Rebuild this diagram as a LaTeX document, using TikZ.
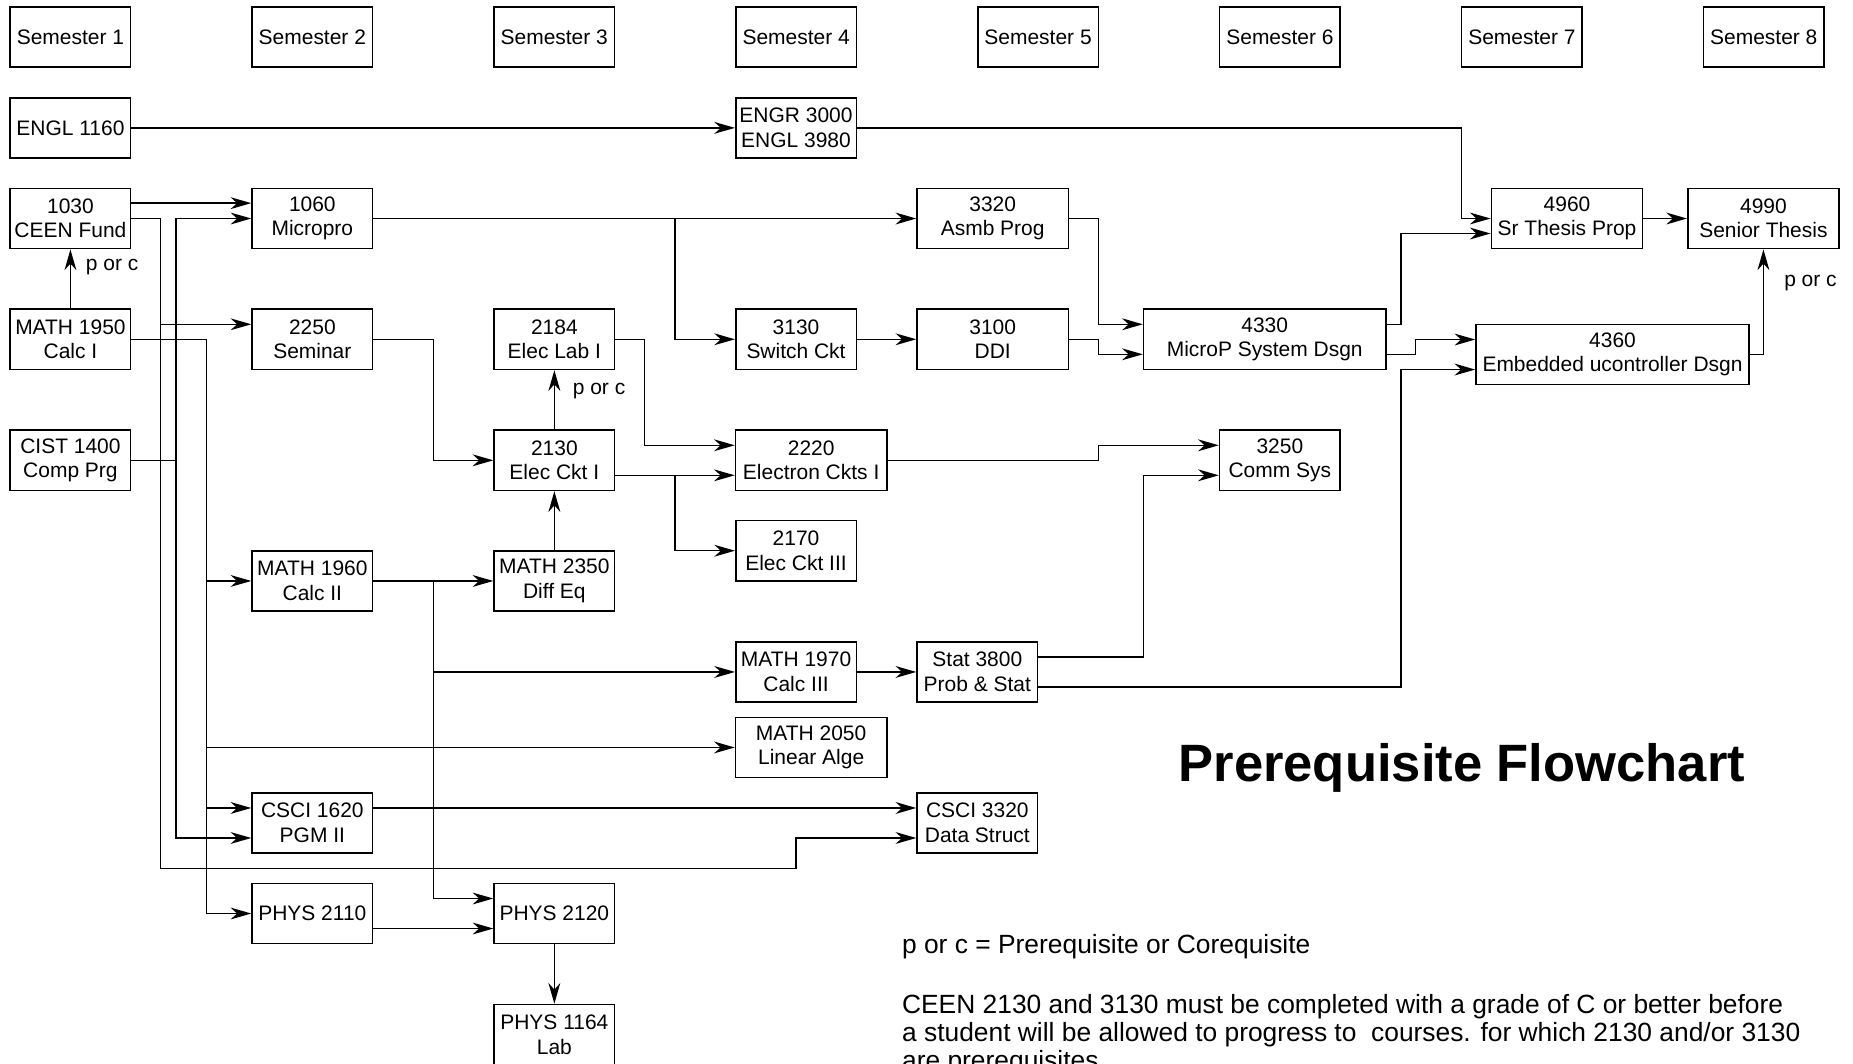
\documentclass[tikz,border=0pt]{standalone}
\usepackage{fontspec}
\setmainfont{Liberation Sans}
\usetikzlibrary{arrows.meta}

\begin{document}
\begin{tikzpicture}[x=0.2mm, y=-0.2mm,
    >={Stealth[length=3.5mm, width=2mm, inset=1.1mm]},
    course/.style={draw, line width=0.75pt, minimum width=20.4mm, minimum height=10.2mm, inner sep=0pt, align=center, font=\fontsize{10.1}{11.8}\selectfont},
    longcourse/.style={course, minimum width=25.6mm},
    arr/.style={line width=0.7pt, ->},
    lbl/.style={font=\fontsize{10.1}{11.8}\selectfont, inner sep=0pt, anchor=west},
    note/.style={font=\fontsize{12.7}{14}\selectfont, inner sep=0pt, anchor=base west}]
    \useasboundingbox (0,0) rectangle (1568,900);
    \clip (0,0) rectangle (1568,900);

    \node[course] (sem1) at (59.6,31.3) {Semester 1};
    \node[course] (sem2) at (264.3,31.3) {Semester 2};
    \node[course] (sem3) at (469.0,31.3) {Semester 3};
    \node[course] (sem4) at (673.7,31.3) {Semester 4};
    \node[course] (sem5) at (878.4,31.3) {Semester 5};
    \node[course] (sem6) at (1083.1,31.3) {Semester 6};
    \node[course] (sem7) at (1287.8,31.3) {Semester 7};
    \node[course] (sem8) at (1492.5,31.3) {Semester 8};

    \node[course] (engl1160) at (59.6,108.2) {ENGL 1160};
    \node[course] (engr3000) at (673.6,108.2) {ENGR 3000\\ENGL 3980};
    \node[course] (ceen1030) at (59.6,184.9) {1030\\CEEN Fund};
    \node[course] (ceen1060) at (264.3,184.9) {1060\\Micropro};
    \node[longcourse] (ceen3320) at (840,184.9) {3320\\Asmb Prog};
    \node[longcourse] (ceen4960) at (1326,184.9) {4960\\Sr Thesis Prop};
    \node[longcourse] (ceen4990) at (1492.2,184.9) {4990\\Senior Thesis};
    \node[course] (math1950) at (59.6,287.1) {MATH 1950\\Calc I};
    \node[course] (ceen2250) at (264.3,287.1) {2250\\Seminar};
    \node[course] (ceen2184) at (469.1,287.1) {2184\\Elec Lab I};
    \node[course] (ceen3130) at (673.6,287.1) {3130\\Switch Ckt};
    \node[longcourse] (ceen3100) at (840,287.1) {3100\\DDI};
    \node[course, minimum width=41mm] (ceen4330) at (1070.2,287.1) {4330\\MicroP System Dsgn};
    \node[course, minimum width=46.2mm] (ceen4360) at (1364.5,300) {4360\\Embedded ucontroller Dsgn};
    \node[course] (cist1400) at (59.6,389.5) {CIST 1400\\Comp Prg};
    \node[course] (ceen2130) at (469.1,389.5) {2130\\Elec Ckt I};
    \node[longcourse] (ceen2220) at (686.4,389.5) {2220\\Electron Ckts I};
    \node[course] (ceen3250) at (1083,389.5) {3250\\Comm Sys};
    \node[course] (ceen2170) at (673.6,466) {2170\\Elec Ckt III};
    \node[course] (math1960) at (264.3,491.6) {MATH 1960\\Calc II};
    \node[course] (math2350) at (469.1,491.6) {MATH 2350\\Diff Eq};
    \node[course] (math1970) at (673.6,568.6) {MATH 1970\\Calc III};
    \node[course] (stat3800) at (827,568.6) {Stat 3800\\Prob \& Stat};
    \node[longcourse] (math2050) at (686.4,632.5) {MATH 2050\\Linear Alge};
    \node[course] (csci1620) at (264.3,696.4) {CSCI 1620\\PGM II};
    \node[course] (csci3320) at (827,696.4) {CSCI 3320\\Data Struct};
    \node[course] (phys2110) at (264.3,773) {PHYS 2110};
    \node[course] (phys2120) at (469.1,773) {PHYS 2120};
    \node[course] (phys1164) at (469.1,875.5) {PHYS 1164\\Lab};

    \draw[arr] (engl1160) -- (engr3000);
    \draw[arr] (engr3000.east) -| (1236.7,150) |- (ceen4960.west);
    \draw[arr] ([yshift=2.6mm]ceen1030.east) -- ([yshift=2.6mm]ceen1060.west);
    \draw[arr] (ceen1030.east) -| (136,230) |- ([yshift=2.54mm]ceen2250.west);
    \draw[arr] (ceen1030.east) -| (136,735) -| (673.6,720) |- ([yshift=-2.54mm]csci3320.west);
    \draw[arr] (cist1400.east) -| (149,300) |- (ceen1060.west);
    \draw[arr] (cist1400.east) -| (149,500) |- ([yshift=-2.54mm]csci1620.west);
    \draw[arr] (math1950) -- (ceen1030) node[lbl, pos=0.7, xshift=2.5mm] (porc1) {p or c};
    \draw[arr] (math1950.east) -| (174.7,400) |- (math1960.west);
    \draw[arr] (math1950.east) -| (174.7,400) |- (math2050.west);
    \draw[arr] (math1950.east) -| (174.7,400) |- ([yshift=2.54mm]csci1620.west);
    \draw[arr] (math1950.east) -| (174.7,400) |- (phys2110.west);
    \draw[arr] (ceen1060) -- (ceen3320);
    \draw[arr] (ceen1060.east) -| (571.3,240) |- (ceen3130.west);
    \draw[arr] (ceen2250.east) -| (366.7,340) |- (ceen2130.west);
    \draw[arr] (ceen2130) -- (ceen2184) node[lbl, pos=0.64, xshift=3mm] (porc2) {p or c};
    \draw[arr] (ceen2184.east) -| (545.5,330) |- ([yshift=2.54mm]ceen2220.west);
    \draw[arr] ([yshift=-2.54mm]ceen2130.east) -- ([yshift=-2.54mm]ceen2220.west);
    \draw[arr] ([yshift=-2.54mm]ceen2130.east) -| (571.3,430) |- (ceen2170.west);
    \draw[arr] (math2350) -- (ceen2130);
    \draw[arr] (math1960) -- (math2350);
    \draw[arr] (math1960.east) -| (366.7,530) |- (math1970.west);
    \draw[arr] (math1960.east) -| (366.7,530) |- ([yshift=2.54mm]phys2120.west);
    \draw[arr] ([yshift=-2.54mm]phys2110.east) -- ([yshift=-2.54mm]phys2120.west);
    \draw[arr] (phys2120) -- (phys1164);
    \draw[arr] ([yshift=2.54mm]csci1620.east) -- ([yshift=2.54mm]csci3320.west);
    \draw[arr] (math1970) -- (stat3800);
    \draw[arr] ([yshift=2.54mm]stat3800.east) -| (967.8,480) |- ([yshift=-2.54mm]ceen3250.west);
    \draw[arr] ([yshift=-2.54mm]stat3800.east) -| (1185.5,450) |- ([yshift=-2.54mm]ceen4360.west);
    \draw[arr] (ceen2220.east) -| (929.7,383) |- ([yshift=2.54mm]ceen3250.west);
    \draw[arr] (ceen3130) -- (ceen3100);
    \draw[arr] (ceen3320.east) -| (929.7,230) |- ([yshift=2.54mm]ceen4330.west);
    \draw[arr] (ceen3100.east) -| (929.7,293) |- ([yshift=-2.54mm]ceen4330.west);
    \draw[arr] ([yshift=2.54mm]ceen4330.east) -| (1185.5,230) |- ([yshift=-2.54mm]ceen4960.west);
    \draw[arr] ([yshift=-2.54mm]ceen4330.east) -| (1198,293) |- ([yshift=2.54mm]ceen4360.west);
    \draw[arr] (ceen4960) -- (ceen4990);
    \draw[arr] (ceen4360.east) -| (ceen4990.south) node[lbl, pos=0.84, xshift=3.4mm] (porc3) {p or c};

    \node[font=\fontsize{25.3}{30}\selectfont\bfseries, inner sep=0pt, anchor=base west] (title) at (997,661.6) {Prerequisite Flowchart};
    \node[note] (key) at (763,807) {p or c = Prerequisite or Corequisite};
    \node[note] (rule1) at (763,857.4) {CEEN 2130 and 3130 must be completed with a grade of C or better before};
    \node[note] (rule2) at (763,881.4) {a student will be allowed to progress to\ \ courses. for which 2130 and/or 3130};
    \node[note] (rule3) at (763,905.4) {are prerequisites.};
\end{tikzpicture}
\end{document}
